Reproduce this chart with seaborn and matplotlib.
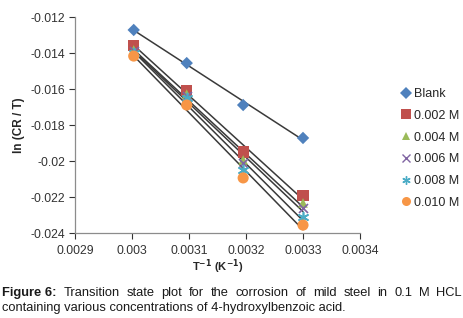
import matplotlib
matplotlib.use("Agg")
import matplotlib.pyplot as plt
import seaborn as sns
import pandas as pd
from matplotlib.lines import Line2D

inv_T = [0.003003, 0.003096, 0.003195, 0.003300]
series_names = ["Blank", "0.002 M", "0.004 M", "0.006 M", "0.008 M", "0.010 M"]
blank = [-0.01272, -0.01456, -0.01689, -0.01872]
c002 = [-0.01356, -0.01606, -0.01950, -0.02194]
c004 = [-0.01383, -0.01628, -0.01994, -0.02233]
c006 = [-0.01390, -0.01640, -0.02010, -0.02260]
c008 = [-0.01400, -0.01650, -0.02050, -0.02310]
c010 = [-0.01417, -0.01689, -0.02094, -0.02356]
values = [blank, c002, c004, c006, c008, c010]

x_ticks = [0.0029, 0.003, 0.0031, 0.0032, 0.0033, 0.0034]
x_tick_labels = ["0.0029", "0.003", "0.0031", "0.0032", "0.0033", "0.0034"]
y_ticks = [-0.024, -0.022, -0.02, -0.018, -0.016, -0.014, -0.012]
y_tick_labels = ["-0.024", "-0.022", "-0.02", "-0.018", "-0.016", "-0.014", "-0.012"]

caption_bold = "Figure 6:"
caption_line1 = "Transition state plot for the corrosion of mild steel in 0.1 M HCL"
caption_line2 = "containing various concentrations of 4-hydroxylbenzoic acid."

colors = ["#4F81BD", "#C0504D", "#9BBB59", "#8064A2", "#4BACC6", "#F79646"]
markers = ["D", "s", "^", "x", (6, 2, 0), "o"]
sizes = [40, 64, 48, 42, 52, 64]

sns.set_style("white")
plt.rcParams["font.family"] = ["Liberation Sans", "DejaVu Sans"]

W, H = 464, 318
fig = plt.figure(figsize=(W/100, H/100), dpi=100)
ax = fig.add_axes([75/W, 1-233/H, (360-75)/W, (233-17)/H])

rows = []
for name, vals in zip(series_names, values):
    for xv, yv in zip(inv_T, vals):
        rows.append({"x": xv, "y": yv, "series": name})
df = pd.DataFrame(rows)

for name in series_names:
    sub = df[df.series == name]
    sns.regplot(data=sub, x="x", y="y", ax=ax, scatter=False, ci=None,
                truncate=True, line_kws=dict(color="#3a3a3a", lw=1.1))

handles = []
for name, c, m, s in zip(series_names, colors, markers, sizes):
    sub = df[df.series == name]
    lw = 1.2 if m in ("x", (6, 2, 0)) else 0
    sns.scatterplot(data=sub, x="x", y="y", ax=ax, color=c, marker=m, s=s,
                    linewidth=lw, edgecolor=c if lw else "none", zorder=3)
    handles.append(Line2D([], [], linestyle="none", marker=m, color=c,
                          markersize=6 if m not in ("s", "o") else 6.5,
                          markeredgewidth=1.0 if lw else 0))

ax.set_xlim(0.0029, 0.0034)
ax.set_ylim(-0.024, -0.012)
ax.set_xticks(x_ticks)
ax.set_xticklabels(x_tick_labels)
ax.set_yticks(y_ticks)
ax.set_yticklabels(y_tick_labels)
ax.tick_params(axis="both", labelsize=8.8, colors="#333333", length=4, width=0.8,
               direction="out", left=True, bottom=True)
ax.tick_params(axis="x", pad=5)
ax.tick_params(axis="y", pad=3)
for s in ["top", "right"]:
    ax.spines[s].set_visible(False)
for s in ["left", "bottom"]:
    ax.spines[s].set_color("#8c8c8c")
    ax.spines[s].set_linewidth(0.9)
ax.set_xlabel("")
ax.set_ylabel("")

fig.text(19/W, 1-125/H, "ln (CR / T)", rotation=90, ha="center", va="center",
         fontsize=8.5, fontweight="bold", color="#262626")
fig.text(218/W, 1-267/H, "T$^{\\mathbf{-1}}$ (K$^{\\mathbf{-1}}$)", ha="center", va="center",
         fontsize=8, fontweight="bold", color="#262626")

leg = fig.legend(handles, series_names, loc="upper left",
                 bbox_to_anchor=(397/W, 1-83/H), frameon=False,
                 fontsize=9, handlelength=0.7, handletextpad=0.25,
                 labelspacing=0.78, borderaxespad=0)
for t in leg.get_texts():
    t.set_color("#262626")

# Caption: first line justified across the full width
cap_fs = 9.3
y1 = 1 - 293/H
y2 = 1 - 308/H
renderer = fig.canvas.get_renderer()
tokens = [(caption_bold, "bold")] + [(w, "normal") for w in caption_line1.split()]
texts = []
for w, wt in tokens:
    t = fig.text(0, y1, w, fontsize=cap_fs, fontweight=wt, ha="left", va="center",
                 color="#1a1a1a")
    texts.append(t)
widths = [t.get_window_extent(renderer).width for t in texts]
left, right = 2, 462
gap = (right - left - sum(widths)) / (len(texts) - 1)
xpos = left
for t, wd in zip(texts, widths):
    t.set_x(xpos / W)
    xpos += wd + gap
fig.text(2/W, y2, caption_line2, fontsize=cap_fs, ha="left", va="center",
         color="#1a1a1a")

fig.savefig("out.png", dpi=100)
